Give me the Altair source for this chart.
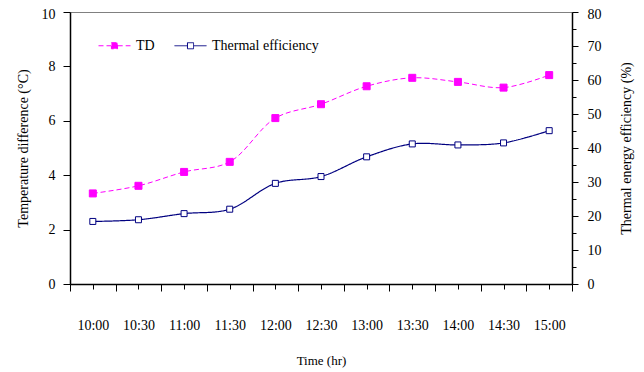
import altair as alt
import pandas as pd

times = ["10:00", "10:30", "11:00", "11:30", "12:00", "12:30",
         "13:00", "13:30", "14:00", "14:30", "15:00"]
td = [3.33, 3.61, 4.12, 4.49, 6.10, 6.61, 7.27, 7.58, 7.43, 7.22, 7.68]
eff = [18.4, 18.9, 20.7, 22.0, 29.6, 31.6, 37.4, 41.2, 40.9, 41.5, 45.1]
series = ["TD", "Thermal efficiency"]
stroke_colors = ["#FF00FF", "#000080"]
fill_colors = ["#FF00FF", "#FFFFFF"]
dashes = [[5, 3], [1, 0]]

idx = list(range(len(times)))
df_td = pd.DataFrame({"i": idx, "time": times, "v": td, "series": series[0]})
df_eff = pd.DataFrame({"i": idx, "time": times, "v": eff, "series": series[1]})

FONT = "Liberation Serif"
sym_path = "M-1,0H-0.2M0.2,0H1M-0.19,-0.19H0.19V0.19H-0.19Z"
label_arr = "[" + ",".join("'" + s + "'" for s in times) + "]"
tick_vals = [k / 2 for k in range(-1, 2 * len(times))]

leg = alt.Legend(title=None, orient="none", legendX=28, legendY=17, direction="horizontal",
                 symbolType=sym_path, symbolSize=1024, symbolStrokeWidth=1,
                 labelFont=FONT, labelFontSize=14, labelColor="black",
                 columnPadding=17, labelOffset=5)

x_enc = alt.X(
    "i:Q",
    scale=alt.Scale(domain=[-0.5, len(times) - 0.5], nice=False, zero=False),
    axis=alt.Axis(
        title="Time (hr)",
        values=tick_vals,
        labelExpr="datum.value % 1 === 0 ? " + label_arr + "[datum.value] : ''",
        tickSize={"condition": {"test": "datum.value % 1 !== 0", "value": 7}, "value": 5},
        labelOverlap=False, labelFlush=False, grid=False,
        labelPadding=29, titlePadding=20,
        labelFontSize=14, titleFontSize=13,
    ),
)

stroke_enc = alt.Stroke("series:N", scale=alt.Scale(domain=series, range=stroke_colors), legend=leg)
dash_enc = alt.StrokeDash("series:N", scale=alt.Scale(domain=series, range=dashes), legend=leg)
fill_enc = alt.Fill("series:N", scale=alt.Scale(domain=series, range=fill_colors), legend=leg)

y_left = alt.Y("v:Q", scale=alt.Scale(domain=[0, 10], nice=False),
               axis=alt.Axis(title="Temperature difference (°C)", values=[0, 2, 4, 6, 8, 10],
                             tickSize=7, grid=False, labelPadding=8, titlePadding=11,
                             labelOffset={"condition": {"test": "datum.value === 10", "value": 2}, "value": 0},
                             labelFontSize=14, titleFontSize=14))
y_right = alt.Y("v:Q", scale=alt.Scale(domain=[0, 80], nice=False),
                axis=alt.Axis(title="Thermal energy efficiency (%)", orient="right",
                              values=list(range(0, 85, 5)),
                              labelExpr="datum.value % 10 === 0 ? datum.label : ''",
                              tickSize={"condition": {"test": "datum.value % 10 === 0", "value": 6}, "value": 4},
                              labelOffset={"condition": {"test": "datum.value === 80", "value": 2}, "value": 0},
                              grid=False, labelPadding=9, titlePadding=18, titleAngle=270,
                              titleBaseline="top",
                              labelFontSize=14, titleFontSize=14))

td_line = alt.Chart(df_td).mark_line(interpolate="catmull-rom", strokeWidth=1).encode(
    x=x_enc, y=y_left, stroke=stroke_enc, strokeDash=dash_enc)
td_pts = alt.Chart(df_td).mark_point(shape="square", size=49, filled=True, opacity=1, strokeWidth=1).encode(
    x=x_enc, y=y_left, stroke=stroke_enc, fill=fill_enc)
eff_line = alt.Chart(df_eff).mark_line(interpolate="catmull-rom", strokeWidth=1.2).encode(
    x=x_enc, y=y_right, stroke=stroke_enc, strokeDash=dash_enc)
eff_pts = alt.Chart(df_eff).mark_point(shape="square", size=36, filled=True, opacity=1, strokeWidth=1).encode(
    x=x_enc, y=y_right, stroke=stroke_enc, fill=fill_enc)

left = alt.layer(td_line, td_pts)
right = alt.layer(eff_line, eff_pts)

chart = alt.layer(left, right).resolve_scale(y="independent").properties(
    width=502, height=272,
    autosize=alt.AutoSizeParams(type="none"),
    padding={"left": 62, "top": 4, "right": 64, "bottom": 86},
).configure(font=FONT).configure_view(
    stroke="#808080", strokeWidth=1
).configure_axis(
    domainColor="black", domainWidth=1.5, tickColor="black", tickWidth=1,
    labelColor="black", titleColor="black", labelFont=FONT, titleFont=FONT,
    titleFontWeight="normal",
)

chart.save("out.html", embed_options={"renderer": "svg", "actions": False})
